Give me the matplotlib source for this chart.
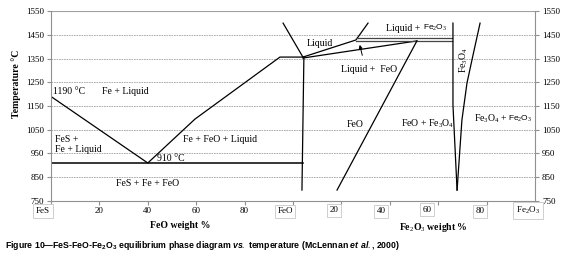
import numpy as np
import matplotlib
matplotlib.use("Agg")
import matplotlib.pyplot as plt

plt.rcParams['font.family'] = ['Liberation Serif', 'DejaVu Serif']
plt.rcParams['mathtext.fontset'] = 'custom'
plt.rcParams['mathtext.rm'] = 'Liberation Serif'
plt.rcParams['mathtext.sf'] = 'Liberation Sans'
plt.rcParams['mathtext.it'] = 'Liberation Sans:italic:bold'
plt.rcParams['mathtext.bf'] = 'Liberation Sans:bold'

# x axis: 0 = FeS, 100 = FeO, 200 = Fe2O3 (two joined composition scales)
liquidus_x = [0, 40, 59.5, 94.6, 104.1]
liquidus_t = [1190, 910, 1095, 1356, 1356]
eutectic_x = [0, 104.1]
eutectic_t = [910, 910]
feo_vert_x = [104.5, 103.7]
feo_vert_t = [1356, 796]
left_top_x = [95.9, 104.1]
left_top_t = [1499, 1356]
liq_upper_x = [104.1, 126, 131]
liq_upper_t = [1356, 1428, 1499]
liq_lower_x = [104.1, 151.2]
liq_lower_t = [1352, 1424]
double_x = [126, 165.7]
double_t1 = [1435, 1435]
double_t2 = [1424, 1424]
feo_bound_x = [151.2, 118.2]
feo_bound_t = [1424, 796]
mag_left_x = [166.1, 166.1, 167.8]
mag_left_t = [1499, 1154, 796]
mag_right_x = [167.8, 169.8, 171.9, 174.4, 177.3]
mag_right_t = [796, 1091, 1247, 1365, 1499]

yticks = [750, 850, 950, 1050, 1150, 1250, 1350, 1450, 1550]
xtick_pos = [0, 20, 40, 60, 80, 100, 120, 140, 160, 180, 200]

plain_xlabels = ['20', '40', '60', '80']
plain_xlabel_pos = [20, 40, 60, 80]
boxed_xlabels = ['FeS', 'FeO', '20', '40', '60', '80', 'Fe$_2$O$_3$']
boxed_xlabel_pos = [-3.3, 96.7, 117, 136.4, 155.4, 177.3, 197.1]
boxed_xlabel_t = [708, 706, 710, 706, 713, 706, 710]


def mixed_label(ax, x, t, serif_part, sans_part, fs):
    # serif text followed by a smaller sans-serif formula, centred as a pair
    a = ax.text(x, t, serif_part, fontsize=fs, va='center', ha='right')
    b = ax.annotate(sans_part, xy=(1, 0.5), xycoords=a, xytext=(0, 0),
                    textcoords='offset points', fontsize=fs - 1,
                    family=['Liberation Sans', 'DejaVu Sans'], va='center', ha='left')
    fig = ax.figure
    fig.canvas.draw()
    r = fig.canvas.get_renderer()
    wa = a.get_window_extent(r).width
    wb = b.get_window_extent(r).width
    shift = (wa - wb) / 2.0
    a.set_transform(a.get_transform() + matplotlib.transforms.Affine2D().translate(shift, 0))


fig = plt.figure(figsize=(5.72, 2.56), dpi=100)
ax = fig.add_axes([51 / 572, 1 - 201 / 256, 484 / 572, 190 / 256])
ax.set_xlim(0, 200)
ax.set_ylim(750, 1550)

# grid
for t in yticks[1:-1]:
    ax.axhline(t, color='#a0a0a0', lw=0.6, ls=(0, (2, 1)), zorder=0)
ax.axhline(1550, color='#a0a0a0', lw=0.8, zorder=0)

for s in ['left', 'right', 'bottom']:
    ax.spines[s].set_color('#909090')
    ax.spines[s].set_linewidth(0.8)
ax.spines['top'].set_visible(False)

ax.set_yticks(yticks)
ax.tick_params(axis='y', which='both', left=True, right=True, labelleft=True,
               labelright=True, labelsize=6.5, length=3, color='#909090', pad=2)
ax.set_xticks(xtick_pos)
ax.set_xticklabels([])
ax.tick_params(axis='x', length=3, color='#909090')

lc = dict(color='black', lw=0.9)
ax.plot(liquidus_x, liquidus_t, **lc)
ax.plot(eutectic_x, eutectic_t, color='black', lw=1.1)
ax.plot(feo_vert_x, feo_vert_t, **lc)
ax.plot(left_top_x, left_top_t, **lc)
ax.plot(liq_upper_x, liq_upper_t, **lc)
ax.plot(liq_lower_x, liq_lower_t, **lc)
ax.plot(double_x, double_t1, color='#444444', lw=0.9)
ax.plot(double_x, double_t2, color='#444444', lw=0.9)
ax.plot(feo_bound_x, feo_bound_t, **lc)
ax.plot(mag_left_x, mag_left_t, **lc)
ax.plot(mag_right_x, mag_right_t, **lc)
ax.annotate('', xy=(127.3, 1419), xytext=(128.9, 1352),
            arrowprops=dict(arrowstyle='-|>', color='black', lw=0.7,
                            mutation_scale=5))

fs = 7
ax.text(0.8, 1209, '1190 °C', fontsize=fs, va='center', ha='left')
ax.text(30.6, 1209, 'Fe + Liquid', fontsize=fs, va='center', ha='center')
ax.text(1.7, 1011, 'FeS +', fontsize=fs, va='center', ha='left')
ax.text(1.7, 965, 'Fe + Liquid', fontsize=fs, va='center', ha='left')
ax.text(43.8, 931, '910 °C', fontsize=fs, va='center', ha='left')
ax.text(40.1, 822, 'FeS + Fe + FeO', fontsize=fs, va='center', ha='center')
ax.text(69.8, 1007, 'Fe + FeO + Liquid', fontsize=fs, va='center', ha='center')
ax.text(111.2, 1415, 'Liquid', fontsize=fs, va='center', ha='center')
ax.text(131.4, 1302, 'Liquid +  FeO', fontsize=fs, va='center', ha='center')
ax.text(125.6, 1074, 'FeO', fontsize=fs, va='center', ha='center')
ax.text(155.8, 1074, 'FeO + Fe$_3$O$_4$', fontsize=fs, va='center', ha='center')
ax.text(170.7, 1344, 'Fe$_3$O$_4$', fontsize=fs, va='center', ha='center', rotation=90)
mixed_label(ax, 151.2, 1478, 'Liquid + ', 'Fe$_2$O$_3$', fs)
mixed_label(ax, 186.8, 1095, 'Fe$_3$O$_4$ + ', 'Fe$_2$O$_3$', fs)

# x tick labels
for lab, x in zip(plain_xlabels, plain_xlabel_pos):
    ax.text(x, 706, lab, fontsize=6.5, ha='center', va='center')
for lab, x, t in zip(boxed_xlabels, boxed_xlabel_pos, boxed_xlabel_t):
    ax.text(x, t, lab, fontsize=6.5, ha='center', va='center',
            bbox=dict(boxstyle='square,pad=0.3', fc='white', ec='#c8c8c8', lw=0.6))

fig.text(180 / 572, 1 - 225 / 256, 'FeO weight %', fontsize=7, fontweight='bold',
         ha='center', va='center')
fig.text(433 / 572, 1 - 228 / 256, 'Fe$_2$O$_3$ weight %', fontsize=7,
         fontweight='bold', ha='center', va='center')
fig.text(16 / 572, 1 - 84 / 256, 'Temperature °C', fontsize=7, fontweight='bold',
         rotation=90, ha='center', va='center')

fig.text(5 / 572, 1 - 246 / 256,
         'Figure 10\u2014FeS-FeO-Fe$_{\\mathbf{2}}$O$_{\\mathbf{3}}$ equilibrium phase diagram '
         '$\\mathit{vs.}$ temperature (McLennan $\\mathit{et\\ al.}$, 2000)',
         fontsize=6.3, fontweight='bold', family=['Liberation Sans', 'DejaVu Sans'],
         ha='left', va='center')

fig.savefig('out.png', dpi=100)
